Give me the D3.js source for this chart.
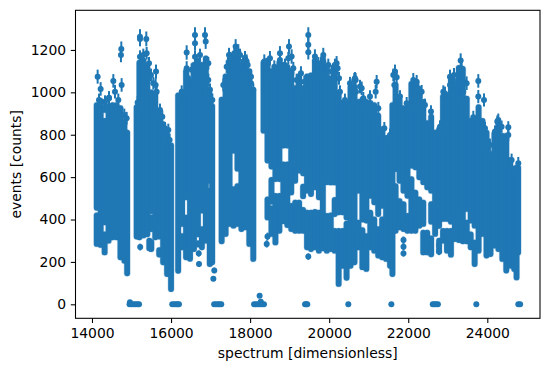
<!DOCTYPE html>
<html>
<head>
<meta charset="utf-8">
<script src="https://cdn.jsdelivr.net/npm/d3@7"></script>
<style>
  html, body { margin: 0; padding: 0; background: #fff; }
  svg { display: block; }
  text { font-family: "DejaVu Sans", sans-serif; fill: #000; }
</style>
</head>
<body>
<div id="chart"></div>
<script>
const xTicks = [14000, 16000, 18000, 20000, 22000, 24000]
const yTicks = [0, 200, 400, 600, 800, 1000, 1200]

// The readings overlap into solid blocks, so each column holds the low/high edges of its blocks
const columnSpectrum = [
  14120, 14220, 14320, 14420, 14520, 14620, 14720, 14820, 14890,
  15130, 15200, 15300, 15400, 15450, 15500, 15600, 15700, 15800, 15900, 16000,
  16180, 16280, 16380, 16480, 16580, 16680, 16780, 16880, 16980, 17040,
  17280, 17380, 17480, 17580, 17680, 17780, 17880, 17980, 18080,
  18340, 18440, 18540, 18640, 18740, 18840, 18940, 19040, 19140, 19240, 19340, 19440,
  19540, 19640, 19740, 19840, 19940, 20040, 20140, 20240, 20340, 20440, 20540, 20640,
  20740, 20840, 20940, 21040, 21140, 21240, 21340, 21440, 21540, 21600, 21680, 21780,
  21880, 21980, 22080, 22180, 22280, 22380, 22480, 22580, 22680, 22780,
  22880, 22980, 23080, 23180, 23280, 23380, 23480, 23580, 23680, 23780, 23880, 23980,
  24080, 24180, 24280, 24380, 24480, 24580, 24680, 24740, 24780
]
const columnEdges = [
  [285, 420, 455, 940], [280, 960], [245, 330, 387, 865, 917, 930], [300, 935], [316, 940], [316, 940], [222, 925], [206, 860], [146, 810],
  [320, 930], [316, 1140], [325, 1150], [330, 1120], [265, 300], [261, 295, 355, 410, 440, 1000], [316, 990], [235, 255, 320, 895], [198, 850], [143, 800], [72, 750],
  [158, 985], [269, 322, 379, 985], [222, 409, 505, 1100], [215, 1050], [261, 1130], [330, 1150], [269, 354, 442, 1130], [300, 1160], [190, 535, 583, 990], [198, 935],
  [297, 965], [332, 1075], [379, 1150], [371, 543, 725, 1175], [379, 558, 640, 1165], [355, 1130], [363, 1135], [285, 1100], [214, 1010],
  [819, 1140], [410, 495, 678, 1150], [332, 453, 484, 587, 650, 1100], [292, 511, 591, 1100], [347, 511, 591, 1140], [392, 660, 749, 1130], [374, 660, 749, 1120], [355, 464, 528, 1100], [347, 480, 583, 1020], [347, 480, 631, 1075], [347, 445, 510, 555, 618, 1020], [269, 432, 536, 1075],
  [261, 432, 520, 1080], [269, 436, 552, 1150], [253, 432, 505, 1130], [264, 1160], [253, 417, 576, 1120], [261, 420, 575, 1065], [253, 346, 426, 492, 575, 1125], [96, 346, 434, 995], [182, 346, 434, 950], [125, 380, 410, 950], [182, 1025], [198, 1020],
  [269, 385, 536, 955], [175, 350, 400, 965], [167, 322, 395, 955], [269, 432, 512, 950], [253, 401, 481, 940], [230, 354, 426, 890], [222, 401, 465, 825], [214, 785], [182, 770], [143, 940], [347, 558, 638, 1035], [363, 487, 583, 965],
  [355, 472, 536, 925], [347, 417, 512, 925], [347, 590, 654, 1040], [347, 527, 646, 1040], [371, 495, 599, 995], [245, 338, 379, 480, 576, 955], [245, 338, 552, 855], [236, 311, 390, 472, 536, 885], [332, 810], [250, 300, 370, 825],
  [300, 346, 403, 980], [253, 346, 403, 985], [234, 346, 390, 1070], [308, 1035], [303, 1115], [297, 1110], [297, 385, 450, 970], [269, 330, 395, 865], [190, 291, 371, 865], [253, 930], [332, 865], [230, 810],
  [237, 710], [277, 805], [261, 855], [214, 795], [159, 795], [182, 680], [167, 640], [127, 645], [245, 645]
]

// Readings that stand clear of the blocks, with their error bars
const pointSpectrum = [
  14143, 14219, 14540, 14582, 14750, 14742, 14733, 14430,
  15214, 15214, 15374, 15619, 15610, 15155, 15220, 15470,
  16606, 16606, 16859, 16876, 16395, 16395, 16707, 16700, 16680, 17094, 17070,
  17466, 17634, 17702, 17912, 18022, 17870, 18359, 18440, 18420,
  18502, 18755, 18983, 19050, 19472, 19472, 19472, 19286, 19640, 19851, 20188, 20214, 20635, 20610, 19472,
  20670, 20678, 20780, 20822, 21201, 21176, 21665, 21707, 21648, 22128, 22213, 22339,
  21880, 21880, 21880, 22780, 22780,
  22929, 23056, 23157, 23056, 23182, 23326, 23351, 23393, 23477, 23393, 23772, 23772, 23916, 24253, 24362, 24531, 24531, 24194
]
const pointEvents = [
  1074, 1016, 1054, 1003, 1035, 1205, 1176, 975,
  1252, 1262, 1252, 1098, 1035, 952, 270, 265,
  1271, 1232, 1271, 1240, 1188, 1114, 190, 240, 285, 160, 120,
  1176, 1216, 1192, 1145, 1074, 1161, 1145, 320, 285,
  1161, 1184, 1216, 1169, 1271, 1224, 1189, 1090, 1169, 1176, 1137, 1114, 1058, 1011, 225,
  1058, 1003, 1027, 1019, 1050, 1003, 1098, 1071, 1035, 1058, 1050, 1003,
  303, 272, 240, 279, 248,
  995, 1074, 1082, 1035, 1035, 1150, 1113, 1050, 1043, 1003, 1054, 980, 964, 862, 838, 835, 799, 815
]
const pointError = [
  33, 32, 32, 32, 32, 35, 34, 31,
  35, 36, 35, 33, 32, 31, 16, 16,
  36, 35, 36, 35, 34, 33, 14, 15, 17, 13, 11,
  34, 35, 35, 34, 33, 34, 34, 18, 17,
  34, 34, 35, 34, 36, 35, 34, 33, 34, 34, 34, 33, 33, 32, 15,
  33, 32, 32, 32, 32, 32, 33, 33, 32, 33, 32, 32,
  17, 16, 15, 17, 16,
  32, 33, 33, 32, 32, 34, 33, 32, 32, 32, 32, 31, 31, 29, 29, 29, 28, 29
]

// Readings along the upper rim of the blocks
const rimSpectrum = [
  14177, 14329, 14430, 14666, 14818, 14877,
  15214, 15298, 15383, 15442, 15492, 15551, 15636, 15720, 15779, 15846, 15931, 15964,
  16269, 16437, 16521, 16606, 16732, 16943, 16943, 16985, 17044,
  17322, 17407, 17491, 17600, 17744, 17828, 17938, 18022, 18081,
  18376, 18612, 18755, 18882, 18966, 19093, 19177, 19371, 19640, 19725, 19851, 19978, 20062, 20146, 20248, 20273, 20399, 20526, 20652,
  20864, 21032, 21243, 21395, 21538, 21622, 21791, 21960, 22255, 22423, 22575, 22803, 22887,
  23646, 23941, 24067, 24278, 24615, 24784
]
const rimEvents = [
  964, 956, 972, 964, 893, 878,
  1168, 1176, 1184, 1137, 1082, 1043, 1003, 917, 885, 830, 822, 775,
  1003, 1067, 1106, 1168, 1176, 1137, 1058, 1012, 964,
  1035, 1121, 1161, 1184, 1176, 1145, 1129, 1043, 1012,
  1121, 1121, 1153, 1129, 1161, 1114, 1058, 1050, 1145, 1137, 1145, 1129, 1098, 1129, 1066, 1003, 964, 1043, 1066,
  972, 980, 925, 830, 799, 1082, 980, 948, 1019, 940, 909, 838, 1003,
  883, 830, 752, 870, 681, 665
]

// Empty spectra along the bottom
const zeroSpectrum = [
  14950, 14960, 15000, 15050, 15100, 15150, 15190,
  16030, 16080, 16130, 16170, 16200,
  17090, 17140, 17190, 17230, 17270,
  18100, 18150, 18200, 18250, 18300, 18350, 18270, 18240,
  19390, 19420, 19446, 20484, 21573,
  22620, 22660, 22700, 22750, 23722, 24785, 24830
]
const zeroEvents = [
  0, 10, 0, 0, 0, 0, 0,
  0, 0, 0, 0, 0,
  0, 0, 0, 0, 0,
  0, 0, 0, 0, 0, 0, 12, 40,
  0, 0, 0, 0, 0,
  0, 0, 0, 0, 0, 0, 0
]

const BLUE = '#1f77b4'
const width = 549
const height = 371
const margin = { top: 10.3, right: 9, bottom: 52.7, left: 75.5 }

const svg = d3.select('#chart')
  .append('svg')
  .attr('width', width)
  .attr('height', height)

const x = d3.scaleLinear().domain([13583, 25333]).range([margin.left, width - margin.right])
const y = d3.scaleLinear().domain([-66, 1387]).range([height - margin.bottom, margin.top])

// Blocks of overlapping readings
const blocks = []
columnSpectrum.forEach((s, i) => {
  d3.pairs(columnEdges[i]).forEach((pair, j) => {
    if (j % 2 === 0) blocks.push({ s, low: pair[0], high: pair[1] })
  })
})

// pale rim first, then the solid blocks on top
;[[7, 0.22], [5.8, 1]].forEach(([w, o]) => {
  svg.append('g').selectAll('line')
    .data(blocks)
    .join('line')
    .attr('x1', d => x(d.s)).attr('x2', d => x(d.s))
    .attr('y1', d => y(d.low)).attr('y2', d => y(d.high))
    .attr('stroke', BLUE)
    .attr('stroke-opacity', o)
    .attr('stroke-width', w)
    .attr('stroke-linecap', 'round')
})

// Error bars
function drawBars(xs, ys, errs) {
  svg.append('g').selectAll('line')
    .data(xs)
    .join('line')
    .attr('x1', d => x(d)).attr('x2', d => x(d))
    .attr('y1', (d, i) => y(ys[i] - errs(i)))
    .attr('y2', (d, i) => y(ys[i] + errs(i)))
    .attr('stroke', BLUE)
    .attr('stroke-width', 2)
}

function drawDots(xs, ys) {
  svg.append('g').selectAll('circle')
    .data(xs)
    .join('circle')
    .attr('cx', d => x(d))
    .attr('cy', (d, i) => y(ys[i]))
    .attr('r', 3)
    .attr('fill', BLUE)
}

drawBars(pointSpectrum, pointEvents, i => pointError[i])
drawBars(rimSpectrum, rimEvents, () => 30)
drawDots(pointSpectrum, pointEvents)
drawDots(rimSpectrum, rimEvents)
drawDots(zeroSpectrum, zeroEvents)

// Axes
const xAxis = svg.append('g')
  .attr('transform', `translate(0,${height - margin.bottom})`)
  .call(d3.axisBottom(x).tickValues(xTicks).tickFormat(d3.format('d')).tickSize(4.7).tickPadding(4.7))
const yAxis = svg.append('g')
  .attr('transform', `translate(${margin.left},0)`)
  .call(d3.axisLeft(y).tickValues(yTicks).tickFormat(d3.format('d')).tickSize(4.7).tickPadding(4.7))

xAxis.select('.domain').remove()
yAxis.select('.domain').remove()
svg.selectAll('.tick line').attr('stroke', '#000').attr('stroke-width', 1.07)
svg.selectAll('.tick text').attr('font-size', 13.9).attr('fill', '#000')

svg.append('rect')
  .attr('x', margin.left)
  .attr('y', margin.top)
  .attr('width', width - margin.left - margin.right)
  .attr('height', height - margin.top - margin.bottom)
  .attr('fill', 'none')
  .attr('stroke', '#000')
  .attr('stroke-width', 1.07)

svg.append('text')
  .attr('x', (margin.left + width - margin.right) / 2)
  .attr('y', 358)
  .attr('text-anchor', 'middle')
  .attr('font-size', 13.9)
  .text('spectrum [dimensionless]')

svg.append('text')
  .attr('transform', `translate(21,${(margin.top + height - margin.bottom) / 2}) rotate(-90)`)
  .attr('text-anchor', 'middle')
  .attr('font-size', 13.9)
  .text('events [counts]')
</script>
</body>
</html>
